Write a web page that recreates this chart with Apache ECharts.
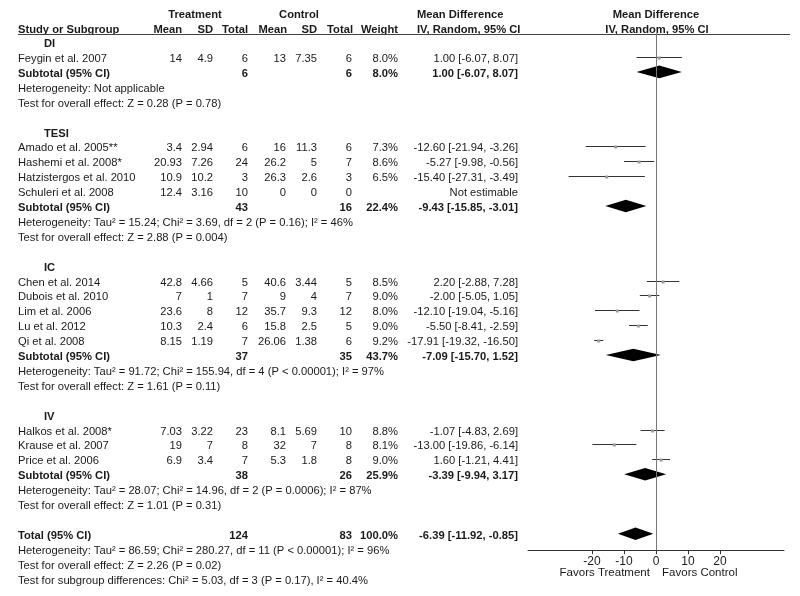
<!DOCTYPE html>
<html>
<head>
<meta charset="utf-8">
<script src="https://cdn.jsdelivr.net/npm/echarts@6/dist/echarts.min.js"></script>
<style>html,body{margin:0;padding:0;background:#fff;}#chart{width:800px;height:596px;}</style>
</head>
<body>
<div id="chart"></div>
<script>
// ---------------- DATA ----------------
const groupNames = ['DI', 'TESI', 'IC', 'IV'];
const studyNames = ['Feygin et al. 2007', 'Amado et al. 2005**', 'Hashemi et al. 2008*', 'Hatzistergos et al. 2010', 'Schuleri et al. 2008',
  'Chen et al. 2014', 'Dubois et al. 2010', 'Lim et al. 2006', 'Lu et al. 2012', 'Qi et al. 2008',
  'Halkos et al. 2008*', 'Krause et al. 2007', 'Price et al. 2006'];
const studyGroup = ['DI', 'TESI', 'TESI', 'TESI', 'TESI', 'IC', 'IC', 'IC', 'IC', 'IC', 'IV', 'IV', 'IV'];
const tMean = ['14', '3.4', '20.93', '10.9', '12.4', '42.8', '7', '23.6', '10.3', '8.15', '7.03', '19', '6.9'];
const tSD = ['4.9', '2.94', '7.26', '10.2', '3.16', '4.66', '1', '8', '2.4', '1.19', '3.22', '7', '3.4'];
const tTotal = [6, 6, 24, 3, 10, 5, 7, 12, 6, 7, 23, 8, 7];
const cMean = ['13', '16', '26.2', '26.3', '0', '40.6', '9', '35.7', '15.8', '26.06', '8.1', '32', '5.3'];
const cSD = ['7.35', '11.3', '5', '2.6', '0', '3.44', '4', '9.3', '2.5', '1.38', '5.69', '7', '1.8'];
const cTotal = [6, 6, 7, 3, 0, 5, 7, 12, 5, 6, 10, 8, 8];
const studyWeight = [8.0, 7.3, 8.6, 6.5, null, 8.5, 9.0, 8.0, 9.0, 9.2, 8.8, 8.1, 9.0];
const studyMD = [1.00, -12.60, -5.27, -15.40, null, 2.20, -2.00, -12.10, -5.50, -17.91, -1.07, -13.00, 1.60];
const studyLow = [-6.07, -21.94, -9.98, -27.31, null, -2.88, -5.05, -19.04, -8.41, -19.32, -4.83, -19.86, -1.21];
const studyHigh = [8.07, -3.26, -0.56, -3.49, null, 7.28, 1.05, -5.16, -2.59, -16.50, 2.69, -6.14, 4.41];

const subTTotal = [6, 43, 37, 38];
const subCTotal = [6, 16, 35, 26];
const subWeight = [8.0, 22.4, 43.7, 25.9];
const subMD = [1.00, -9.43, -7.09, -3.39];
const subLow = [-6.07, -15.85, -15.70, -9.94];
const subHigh = [8.07, -3.01, 1.52, 3.17];
const hetTexts = [
  'Heterogeneity: Not applicable',
  'Heterogeneity: Tau² = 15.24; Chi² = 3.69, df = 2 (P = 0.16); I² = 46%',
  'Heterogeneity: Tau² = 91.72; Chi² = 155.94, df = 4 (P < 0.00001); I² = 97%',
  'Heterogeneity: Tau² = 28.07; Chi² = 14.96, df = 2 (P = 0.0006); I² = 87%'
];
const testTexts = [
  'Test for overall effect: Z = 0.28 (P = 0.78)',
  'Test for overall effect: Z = 2.88 (P = 0.004)',
  'Test for overall effect: Z = 1.61 (P = 0.11)',
  'Test for overall effect: Z = 1.01 (P = 0.31)'
];
const totalTTotal = 124, totalCTotal = 83, totalWeight = 100.0;
const totalMD = -6.39, totalLow = -11.92, totalHigh = -0.85;
const totalNotes = [
  'Heterogeneity: Tau² = 86.59; Chi² = 280.27, df = 11 (P < 0.00001); I² = 96%',
  'Test for overall effect: Z = 2.26 (P = 0.02)',
  'Test for subgroup differences: Chi² = 5.03, df = 3 (P = 0.17), I² = 40.4%'
];
const tickValues = [-20, -10, 0, 10, 20];
const favorsLabels = ['Favors Treatment', 'Favors Control'];

// ---------------- LAYOUT ----------------
const FONT = '"Liberation Sans", Arial, Helvetica, sans-serif';
const TXT = '#1a1a1a';
const COL = { name: 18, group: 44, tMean: 182, tSD: 213, tTot: 248, cMean: 286, cSD: 317, cTot: 352, weight: 398, md: 518, mdHead: 417, forest: 656, lineEnd: 790 };
const ROW_H = 14.9;
const FS = 11.2;

// Build rows
const rows = [];
rows.push({ r: -1.95, kind: 'head1' });
rows.push({ r: -0.95, kind: 'head2' });
let r = 0;
groupNames.forEach((g, gi) => {
  rows.push({ r: r++, kind: 'group', label: g });
  studyNames.forEach((n, i) => { if (studyGroup[i] === g) rows.push({ r: r++, kind: 'study', i }); });
  rows.push({ r: r++, kind: 'sub', gi });
  rows.push({ r: r++, kind: 'note', text: hetTexts[gi] });
  rows.push({ r: r++, kind: 'note', text: testTexts[gi] });
  r++;
});
const totalRow = r;
rows.push({ r: r++, kind: 'total' });
totalNotes.forEach(t => rows.push({ r: r++, kind: 'note', text: t }));

const fmtCI = (m, lo, hi) => m.toFixed(2) + ' [' + lo.toFixed(2) + ', ' + hi.toFixed(2) + ']';

function txt(api, x, row, text, align, bold) {
  const p = api.coord([x, row]);
  return { type: 'text', x: p[0], y: p[1], style: { text: text, align: align, verticalAlign: 'middle', fontSize: FS, fontFamily: FONT, fontWeight: bold ? 'bold' : 'normal', fill: TXT } };
}

function renderTable(params, api) {
  const o = rows[params.dataIndex];
  const ch = [];
  const R = o.r;
  if (o.kind === 'head1') {
    ch.push(txt(api, (COL.tMean + COL.tTot) / 2 - 20, R, 'Treatment', 'center', true));
    ch.push(txt(api, (COL.cMean + COL.cTot) / 2 - 20, R, 'Control', 'center', true));
    ch.push(txt(api, COL.mdHead, R, 'Mean Difference', 'left', true));
    ch.push(txt(api, COL.forest, R, 'Mean Difference', 'center', true));
  } else if (o.kind === 'head2') {
    ch.push(txt(api, COL.name, R, 'Study or Subgroup', 'left', true));
    ch.push(txt(api, COL.tMean, R, 'Mean', 'right', true));
    ch.push(txt(api, COL.tSD, R, 'SD', 'right', true));
    ch.push(txt(api, COL.tTot, R, 'Total', 'right', true));
    ch.push(txt(api, COL.cMean + 1, R, 'Mean', 'right', true));
    ch.push(txt(api, COL.cSD, R, 'SD', 'right', true));
    ch.push(txt(api, COL.cTot + 1, R, 'Total', 'right', true));
    ch.push(txt(api, COL.weight, R, 'Weight', 'right', true));
    ch.push(txt(api, COL.mdHead, R, 'IV, Random, 95% CI', 'left', true));
    ch.push(txt(api, COL.forest + 1, R, 'IV, Random, 95% CI', 'center', true));
    const a = api.coord([COL.name, R + 0.24]);
    const b = api.coord([COL.lineEnd, R + 0.24]);
    const y = Math.round(a[1]) + 0.5;
    ch.push({ type: 'line', shape: { x1: a[0], y1: y, x2: b[0], y2: y }, style: { stroke: '#444', lineWidth: 1 } });
  } else if (o.kind === 'group') {
    ch.push(txt(api, COL.group, R, o.label, 'left', true));
  } else if (o.kind === 'study') {
    const i = o.i;
    ch.push(txt(api, COL.name, R, studyNames[i], 'left', false));
    ch.push(txt(api, COL.tMean, R, tMean[i], 'right', false));
    ch.push(txt(api, COL.tSD, R, tSD[i], 'right', false));
    ch.push(txt(api, COL.tTot, R, String(tTotal[i]), 'right', false));
    ch.push(txt(api, COL.cMean, R, cMean[i], 'right', false));
    ch.push(txt(api, COL.cSD, R, cSD[i], 'right', false));
    ch.push(txt(api, COL.cTot, R, String(cTotal[i]), 'right', false));
    if (studyWeight[i] != null) ch.push(txt(api, COL.weight, R, studyWeight[i].toFixed(1) + '%', 'right', false));
    ch.push(txt(api, COL.md, R, studyMD[i] == null ? 'Not estimable' : fmtCI(studyMD[i], studyLow[i], studyHigh[i]), 'right', false));
  } else if (o.kind === 'sub') {
    const g = o.gi;
    ch.push(txt(api, COL.name, R, 'Subtotal (95% CI)', 'left', true));
    ch.push(txt(api, COL.tTot, R, String(subTTotal[g]), 'right', true));
    ch.push(txt(api, COL.cTot, R, String(subCTotal[g]), 'right', true));
    ch.push(txt(api, COL.weight, R, subWeight[g].toFixed(1) + '%', 'right', true));
    ch.push(txt(api, COL.md, R, fmtCI(subMD[g], subLow[g], subHigh[g]), 'right', true));
  } else if (o.kind === 'total') {
    ch.push(txt(api, COL.name, R, 'Total (95% CI)', 'left', true));
    ch.push(txt(api, COL.tTot, R, String(totalTTotal), 'right', true));
    ch.push(txt(api, COL.cTot, R, String(totalCTotal), 'right', true));
    ch.push(txt(api, COL.weight, R, totalWeight.toFixed(1) + '%', 'right', true));
    ch.push(txt(api, COL.md, R, fmtCI(totalMD, totalLow, totalHigh), 'right', true));
  } else if (o.kind === 'note') {
    ch.push(txt(api, COL.name, R, o.text, 'left', false));
  }
  return { type: 'group', children: ch };
}

// Forest data
const ciData = [];
studyNames.forEach((n, i) => {
  if (studyMD[i] == null) return;
  const row = rows.find(o => o.kind === 'study' && o.i === i).r;
  ciData.push([studyMD[i], row, studyLow[i], studyHigh[i]]);
});
const diamondData = [];
groupNames.forEach((g, gi) => {
  const row = rows.find(o => o.kind === 'sub' && o.gi === gi).r;
  diamondData.push([subMD[gi], row, subLow[gi], subHigh[gi]]);
});
diamondData.push([totalMD, totalRow, totalLow, totalHigh]);

function renderCI(params, api) {
  const row = api.value(1);
  const a = api.coord([api.value(2), row]);
  const b = api.coord([api.value(3), row]);
  const m = api.coord([api.value(0), row]);
  const y = Math.round(a[1]) + 0.5;
  return { type: 'group', children: [
    { type: 'line', shape: { x1: a[0], y1: y, x2: b[0], y2: y }, style: { stroke: '#333', lineWidth: 1 } },
    { type: 'rect', shape: { x: m[0] - 1.5, y: y - 1, width: 3, height: 3 }, style: { fill: '#9a9a9a' } }
  ] };
}
function renderDiamond(params, api) {
  const row = api.value(1);
  const a = api.coord([api.value(2), row]);
  const b = api.coord([api.value(3), row]);
  const m = api.coord([api.value(0), row]);
  const h = 6.3;
  return { type: 'polygon', shape: { points: [[a[0], a[1]], [m[0], m[1] - h], [b[0], b[1]], [m[0], m[1] + h]] }, style: { fill: '#000' } };
}
function renderFavors(params, api) {
  const row = 35.65;
  const p1 = api.coord([-1.9, row]);
  const p2 = api.coord([1.9, row]);
  const st = { fontSize: 11.5, fontFamily: FONT, fill: TXT, verticalAlign: 'middle' };
  return { type: 'group', children: [
    { type: 'text', x: p1[0], y: p1[1], style: Object.assign({ text: favorsLabels[0], align: 'right' }, st) },
    { type: 'text', x: p2[0], y: p2[1], style: Object.assign({ text: favorsLabels[1], align: 'left' }, st) }
  ] };
}

const TBL_MIN = -2.6, TBL_MAX = 36.6;
const FOR_MIN = -0.6, FOR_MAX = 34.1;
const Y0 = 42.1;
const chart = echarts.init(document.getElementById('chart'), null, { renderer: 'canvas' });
chart.setOption({
  backgroundColor: '#fff',
  animation: false,
  grid: [
    { left: 0, width: 800, top: Y0 + 2 + TBL_MIN * ROW_H, height: (TBL_MAX - TBL_MIN) * ROW_H },
    { left: 528, width: 256, top: Y0 + FOR_MIN * ROW_H, height: (FOR_MAX - FOR_MIN) * ROW_H }
  ],
  xAxis: [
    { gridIndex: 0, type: 'value', min: 0, max: 800, show: false },
    { gridIndex: 1, type: 'value', min: -40, max: 40, interval: 10, splitLine: { show: false },
      axisLine: { show: true, onZero: false, lineStyle: { color: '#333', width: 1 } },
      axisTick: { show: true, length: 4, customValues: tickValues, lineStyle: { color: '#333' } },
      axisLabel: { customValues: tickValues, fontSize: 12, color: TXT, fontFamily: FONT, margin: 5 } }
  ],
  yAxis: [
    { gridIndex: 0, type: 'value', min: TBL_MIN, max: TBL_MAX, inverse: true, show: false },
    { gridIndex: 1, type: 'value', min: FOR_MIN, max: FOR_MAX, inverse: true, show: false }
  ],
  series: [
    { type: 'custom', xAxisIndex: 0, yAxisIndex: 0, renderItem: renderTable, data: rows.map(o => [0, o.r]), silent: true, clip: false },
    { type: 'custom', xAxisIndex: 1, yAxisIndex: 1, renderItem: renderCI, data: ciData, silent: true, clip: false,
      markLine: { silent: true, symbol: 'none', label: { show: false }, lineStyle: { color: '#777', width: 1, type: 'solid' }, data: [{ xAxis: 0 }] } },
    { type: 'custom', xAxisIndex: 1, yAxisIndex: 1, renderItem: renderDiamond, data: diamondData, silent: true, clip: false },
    { type: 'custom', xAxisIndex: 1, yAxisIndex: 1, renderItem: renderFavors, data: [[0, 0]], silent: true, clip: false }
  ]
});
</script>
</body>
</html>
